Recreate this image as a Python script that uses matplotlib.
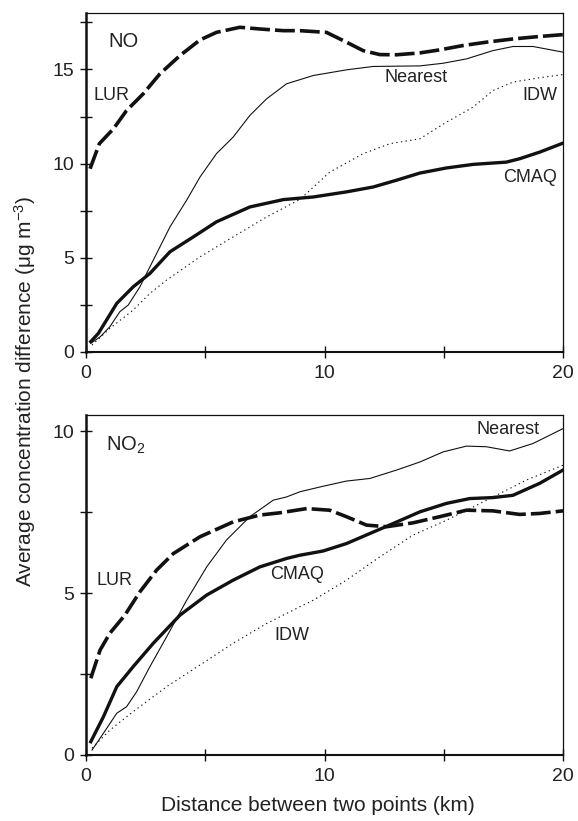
import matplotlib
matplotlib.use("Agg")
import matplotlib.pyplot as plt
from matplotlib.ticker import MultipleLocator

plt.rcParams['font.family'] = ['Liberation Sans', 'DejaVu Sans']
plt.rcParams['mathtext.fontset'] = 'custom'
plt.rcParams['mathtext.rm'] = 'Liberation Sans'
plt.rcParams['mathtext.it'] = 'Liberation Sans:italic'
plt.rcParams['mathtext.default'] = 'regular'

# ---------------- NO panel data ----------------
no_lur_x = [0.17, 0.56, 1.15, 1.70, 2.40, 3.10, 3.94, 4.78, 5.47, 6.45, 7.29, 8.27, 8.97, 10.08, 10.92, 11.62, 12.32, 13.02, 14.0, 14.83, 15.8, 16.79, 17.9, 19.0, 20.0]
no_lur_y = [9.73, 11.06, 11.85, 12.82, 13.71, 14.77, 15.74, 16.57, 16.97, 17.24, 17.15, 17.06, 17.06, 16.97, 16.45, 16.0, 15.79, 15.78, 15.88, 16.04, 16.27, 16.45, 16.62, 16.75, 16.85]

no_near_x = [0.2, 0.6, 1.0, 1.42, 1.77, 2.26, 2.68, 3.10, 3.52, 4.22, 4.78, 5.47, 6.17, 6.87, 7.57, 8.41, 9.53, 10.92, 12.04, 14.0, 14.97, 15.95, 17.06, 17.9, 18.74, 20.0]
no_near_y = [0.46, 0.81, 1.34, 2.14, 2.49, 3.46, 4.52, 5.58, 6.64, 8.06, 9.29, 10.53, 11.41, 12.56, 13.44, 14.24, 14.68, 14.98, 15.16, 15.19, 15.33, 15.56, 16.0, 16.22, 16.22, 15.92]

no_idw_x = [0.25, 1.0, 1.98, 2.68, 3.38, 4.78, 6.17, 7.57, 8.97, 10.22, 11.62, 12.74, 14.0, 15.11, 16.23, 17.06, 17.9, 19.02, 20.0]
no_idw_y = [0.37, 1.25, 2.23, 3.11, 3.82, 5.05, 6.11, 7.17, 8.10, 9.55, 10.53, 11.06, 11.32, 12.2, 13.0, 13.88, 14.33, 14.56, 14.73]

no_cmaq_x = [0.2, 0.52, 1.29, 1.98, 2.68, 3.52, 4.50, 5.47, 6.87, 8.27, 9.53, 10.92, 12.04, 13.02, 14.0, 15.11, 16.23, 17.62, 18.18, 19.02, 20.0]
no_cmaq_y = [0.55, 0.99, 2.58, 3.46, 4.17, 5.32, 6.11, 6.91, 7.70, 8.09, 8.23, 8.50, 8.76, 9.12, 9.50, 9.77, 9.96, 10.08, 10.26, 10.61, 11.09]

# ---------------- NO2 panel data ----------------
no2_lur_x = [0.2, 0.59, 1.0, 1.63, 2.26, 2.96, 3.66, 4.78, 6.17, 7.29, 8.13, 9.25, 10.22, 10.92, 11.76, 12.6, 13.71, 14.83, 15.95, 17.06, 18.18, 19.02, 20.0]
no2_lur_y = [2.37, 3.24, 3.76, 4.32, 5.04, 5.71, 6.22, 6.74, 7.20, 7.41, 7.48, 7.61, 7.56, 7.36, 7.10, 7.05, 7.17, 7.36, 7.56, 7.54, 7.43, 7.46, 7.54]

no2_near_x = [0.25, 0.73, 1.29, 1.70, 2.12, 2.68, 3.38, 4.22, 5.06, 5.89, 6.87, 7.85, 8.41, 8.97, 9.94, 10.92, 11.9, 13.02, 14.0, 14.97, 15.95, 16.79, 17.76, 18.74, 20.0]
no2_near_y = [0.15, 0.67, 1.29, 1.49, 1.95, 2.73, 3.65, 4.78, 5.81, 6.64, 7.36, 7.87, 7.97, 8.13, 8.30, 8.46, 8.54, 8.80, 9.05, 9.36, 9.54, 9.52, 9.39, 9.62, 10.08]

no2_cmaq_x = [0.2, 0.73, 1.29, 1.98, 2.82, 3.94, 5.06, 6.17, 7.29, 8.41, 8.97, 9.94, 10.92, 11.9, 12.88, 14.0, 15.11, 16.09, 17.06, 17.9, 19.02, 20.0]
no2_cmaq_y = [0.41, 1.18, 2.11, 2.73, 3.45, 4.32, 4.94, 5.40, 5.81, 6.07, 6.17, 6.30, 6.53, 6.84, 7.15, 7.51, 7.77, 7.92, 7.95, 8.02, 8.39, 8.80]

no2_idw_x = [0.25, 1.0, 1.98, 3.38, 4.78, 6.17, 7.57, 8.97, 9.53, 10.92, 12.32, 13.71, 15.11, 16.23, 17.34, 18.46, 20.0]
no2_idw_y = [0.21, 0.77, 1.34, 2.11, 2.78, 3.45, 4.06, 4.58, 4.78, 5.40, 6.12, 6.79, 7.25, 7.66, 8.07, 8.49, 8.95]

x_ticks = [0, 10, 20]
no_yticks = [0, 5, 10, 15]
no2_yticks = [0, 5, 10]

fig = plt.figure(figsize=(5.78, 8.21), dpi=100)
ax1 = fig.add_axes([0.1488, 0.5713, 0.8253, 0.4129])
ax2 = fig.add_axes([0.1488, 0.0804, 0.8253, 0.4141])

TXT = '#222222'

def style(ax, ymax, yticks):
    ax.set_xlim(0, 20)
    ax.set_ylim(0, ymax)
    ax.set_xticks(x_ticks)
    ax.set_yticks(yticks)
    ax.xaxis.set_minor_locator(MultipleLocator(5))
    ax.yaxis.set_minor_locator(MultipleLocator(2.5))
    ax.tick_params(which='both', direction='inout', length=8.5, width=1.0, color='#111111')
    ax.tick_params(axis='y', which='major', labelsize=14, pad=4, labelcolor=TXT)
    ax.tick_params(axis='x', which='major', labelsize=14, pad=5, labelcolor=TXT)
    ax.tick_params(top=False, right=False, which='both')
    ax.spines['left'].set_linewidth(1.8)
    ax.spines['bottom'].set_linewidth(1.5)
    ax.spines['top'].set_linewidth(0.9)
    ax.spines['right'].set_linewidth(0.9)
    for s in ax.spines.values():
        s.set_color('#111111')

def draw(ax, lur, near, idw, cmaq):
    ax.plot(*lur, color='#111111', lw=2.6, dashes=(5.5, 1.4), solid_capstyle='butt', dash_capstyle='butt')
    ax.plot(*near, color='#111111', lw=0.8)
    ax.plot(*idw, color='#111111', lw=0.8, dashes=(1.2, 3.0))
    ax.plot(*cmaq, color='#111111', lw=2.4)

style(ax1, 18, no_yticks)
draw(ax1, (no_lur_x, no_lur_y), (no_near_x, no_near_y), (no_idw_x, no_idw_y), (no_cmaq_x, no_cmaq_y))
ax1.text(0.92, 16.5, 'NO', fontsize=14.5, va='center', ha='left', color=TXT)
ax1.text(0.31, 13.6, 'LUR', fontsize=13, va='center', ha='left', color=TXT)
ax1.text(13.85, 14.6, 'Nearest', fontsize=13, va='center', ha='center', color=TXT)
ax1.text(19.77, 13.6, 'IDW', fontsize=13, va='center', ha='right', color=TXT)
ax1.text(19.73, 9.29, 'CMAQ', fontsize=13, va='center', ha='right', color=TXT)

style(ax2, 10.5, no2_yticks)
draw(ax2, (no2_lur_x, no2_lur_y), (no2_near_x, no2_near_y), (no2_idw_x, no2_idw_y), (no2_cmaq_x, no2_cmaq_y))
ax2.text(0.84, 9.57, 'NO$_2$', fontsize=14.5, va='center', ha='left', color=TXT)
ax2.text(0.45, 5.40, 'LUR', fontsize=13, va='center', ha='left', color=TXT)
ax2.text(8.86, 5.56, 'CMAQ', fontsize=13, va='center', ha='center', color=TXT)
ax2.text(8.63, 3.70, 'IDW', fontsize=13, va='center', ha='center', color=TXT)
ax2.text(19.02, 10.05, 'Nearest', fontsize=13, va='center', ha='right', color=TXT)

fig.text(25/578, 1 - 392/821, 'Average concentration difference (μg m$^{-3}$)', rotation=90,
         ha='center', va='center', fontsize=15, color=TXT)
fig.text(318/578, 1 - 805/821, 'Distance between two points (km)',
         ha='center', va='center', fontsize=15, color=TXT)

fig.savefig('out.png', dpi=100)
